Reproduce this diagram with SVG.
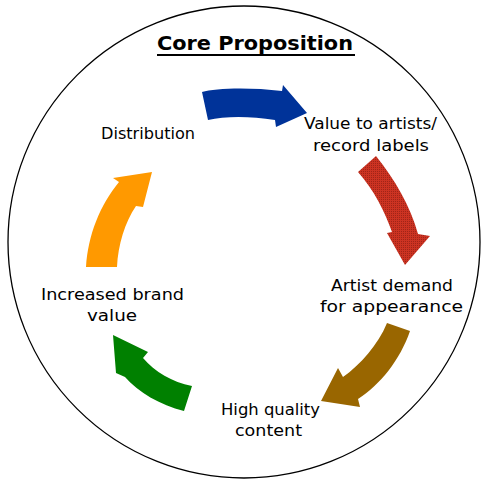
<svg xmlns="http://www.w3.org/2000/svg" width="481" height="481" viewBox="0 0 481 481">
<style>
.lbl{font-family:"DejaVu Sans","Liberation Sans",sans-serif;font-size:16px;fill:#000}
.title{font-family:"DejaVu Sans","Liberation Sans",sans-serif;font-size:20px;font-weight:bold;fill:#000}
</style>
<defs>
<pattern id="dots" width="2" height="2" patternUnits="userSpaceOnUse">
<rect width="2" height="2" fill="#cc3322"/>
<rect x="1" y="1" width="1" height="1" fill="#a02418"/>
</pattern>
</defs>
<rect width="481" height="481" fill="#fff"/>
<circle cx="244" cy="242" r="236" fill="none" stroke="#000" stroke-width="1.3"/>
<g id="title">
<text class="title" x="157" y="49.5" textLength="196" lengthAdjust="spacingAndGlyphs">Core Proposition</text>
<line x1="157" y1="55" x2="355" y2="55" stroke="#000" stroke-width="2"/>
</g>
<g id="connectors">
<path d="M202,92 C215,88 250,87 282,91 L283,85 L307,113 L276,127 L275,120 C250,116 225,116 208,120 Z" fill="#003399"/>
<path d="M358,172 L376,156 C395,180 410,205 418,234 L430,236 L405,265 L387,233 L392,232 C385,212 374,190 358,172 Z" fill="url(#dots)"/>
<path d="M387,323 L410,331 C400,360 380,385 358,399 L360,407 L321,401 L338,368 L343,377 C360,365 378,345 387,323 Z" fill="#996600"/>
<path d="M113,335 L148,352 L143,358 C155,372 172,382 192,386 L184,411 C160,405 138,392 125,377 L116,373 Z" fill="#008000"/>
<path d="M86,267 L117,267 C118,245 125,222 136,206 L143,207 L152,172 L113,178 L119,182 C100,205 88,235 86,267 Z" fill="#ff9900"/>
</g>
<g id="distribution">
<text class="lbl" x="101" y="139" textLength="94" lengthAdjust="spacingAndGlyphs">Distribution</text>
</g>
<g id="value-to-artists">
<text class="lbl" x="304" y="129" textLength="133" lengthAdjust="spacingAndGlyphs">Value to artists/</text>
<text class="lbl" x="313" y="151" textLength="116" lengthAdjust="spacingAndGlyphs">record labels</text>
</g>
<g id="artist-demand">
<text class="lbl" x="331" y="291" textLength="122" lengthAdjust="spacingAndGlyphs">Artist demand</text>
<text class="lbl" x="320" y="312" textLength="143" lengthAdjust="spacingAndGlyphs">for appearance</text>
</g>
<g id="high-quality">
<text class="lbl" x="221" y="415" textLength="99" lengthAdjust="spacingAndGlyphs">High quality</text>
<text class="lbl" x="235" y="436" textLength="67" lengthAdjust="spacingAndGlyphs">content</text>
</g>
<g id="brand-value">
<text class="lbl" x="41" y="300" textLength="143" lengthAdjust="spacingAndGlyphs">Increased brand</text>
<text class="lbl" x="87" y="321" textLength="50" lengthAdjust="spacingAndGlyphs">value</text>
</g>
</svg>
